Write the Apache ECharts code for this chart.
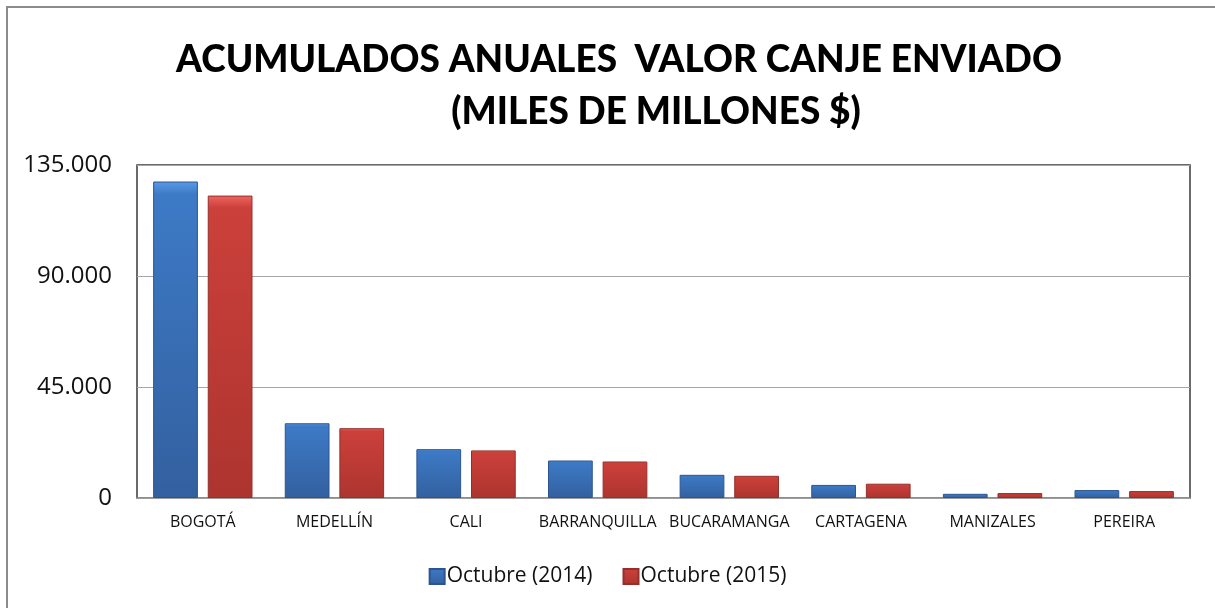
<!DOCTYPE html>
<html>
<head>
<meta charset="utf-8">
<script src="https://cdn.jsdelivr.net/npm/echarts@6/dist/echarts.min.js"></script>
<style>
  html, body { margin: 0; padding: 0; background: #fff; }
  #chart { width: 1215px; height: 608px; }
</style>
</head>
<body>
<div id="chart"></div>
<script>
// datos
const ciudades = ['BOGOTÁ', 'MEDELLÍN', 'CALI', 'BARRANQUILLA', 'BUCARAMANGA', 'CARTAGENA', 'MANIZALES', 'PEREIRA'];
const oct2014 = [128300, 30300, 19800, 15200, 9400, 5300, 1700, 3200];
const oct2015 = [122600, 28300, 19300, 14800, 9000, 5800, 2000, 2800];
const serieNombres = ['Octubre (2014)', 'Octubre (2015)'];
const yTicks = [0, 45000, 90000, 135000];

const chart = echarts.init(document.getElementById('chart'));

function gradiente(c1, c2, c3) {
  return new echarts.graphic.LinearGradient(0, 0, 0, 1, [
    {offset: 0, color: c1},
    {offset: 0.04, color: c2},
    {offset: 1, color: c3}
  ]);
}

function miles(v) {
  return String(v).replace(/\B(?=(\d{3})+(?!\d))/g, '.');
}

const option = {
  animation: false,
  textStyle: { fontFamily: 'Open Sans' },
  graphic: [{
    type: 'rect',
    shape: { x: 7, y: 7, width: 1300, height: 700 },
    style: { fill: 'none', stroke: '#8c8c8c', lineWidth: 2 },
    silent: true
  }],
  title: [{
    text: 'ACUMULADOS ANUALES  VALOR CANJE ENVIADO',
    left: 614, top: 37, textAlign: 'center',
    textStyle: { fontFamily: 'Lato', fontWeight: 900, fontSize: 37, color: '#000' }
  }, {
    text: '(MILES DE MILLONES $)',
    left: 651, top: 89, textAlign: 'center',
    textStyle: { fontFamily: 'Lato', fontWeight: 900, fontSize: 37, color: '#000' }
  }],
  legend: {
    data: serieNombres,
    top: 561, left: 'center',
    itemWidth: 15, itemHeight: 15, itemGap: 30,
    icon: 'rect',
    textStyle: { fontSize: 21, color: '#111', padding: [0, 0, 0, -3] }
  },
  grid: {
    left: 137, right: 25, top: 165, bottom: 110,
    show: true, borderColor: '#3a3a3a', borderWidth: 1.5
  },
  xAxis: {
    type: 'category',
    data: ciudades,
    axisTick: { show: false },
    axisLine: { lineStyle: { color: '#9a9a9a', width: 1.5 } },
    axisLabel: { color: '#111', fontSize: 16, margin: 16, interval: 0 }
  },
  yAxis: {
    type: 'value',
    min: yTicks[0], max: yTicks[yTicks.length - 1], interval: 45000,
    axisLine: { show: false },
    axisTick: { show: false },
    splitLine: { lineStyle: { color: '#a6a6a6', width: 1.2 } },
    axisLabel: { color: '#111', fontSize: 24, margin: 25, formatter: miles }
  },
  series: [{
    name: serieNombres[0],
    type: 'bar',
    data: oct2014,
    barWidth: '34%',
    barGap: '22%',
    color: '#3a72bd',
    itemStyle: {
      color: gradiente('#5a9ae6', '#3d7ac6', '#33609f'),
      borderColor: '#2c5590', borderWidth: 1
    }
  }, {
    name: serieNombres[1],
    type: 'bar',
    data: oct2015,
    barWidth: '34%',
    color: '#c43d39',
    itemStyle: {
      color: gradiente('#f06460', '#cc403b', '#ad342f'),
      borderColor: '#93302c', borderWidth: 1
    }
  }]
};

chart.setOption(option);
</script>
</body>
</html>
